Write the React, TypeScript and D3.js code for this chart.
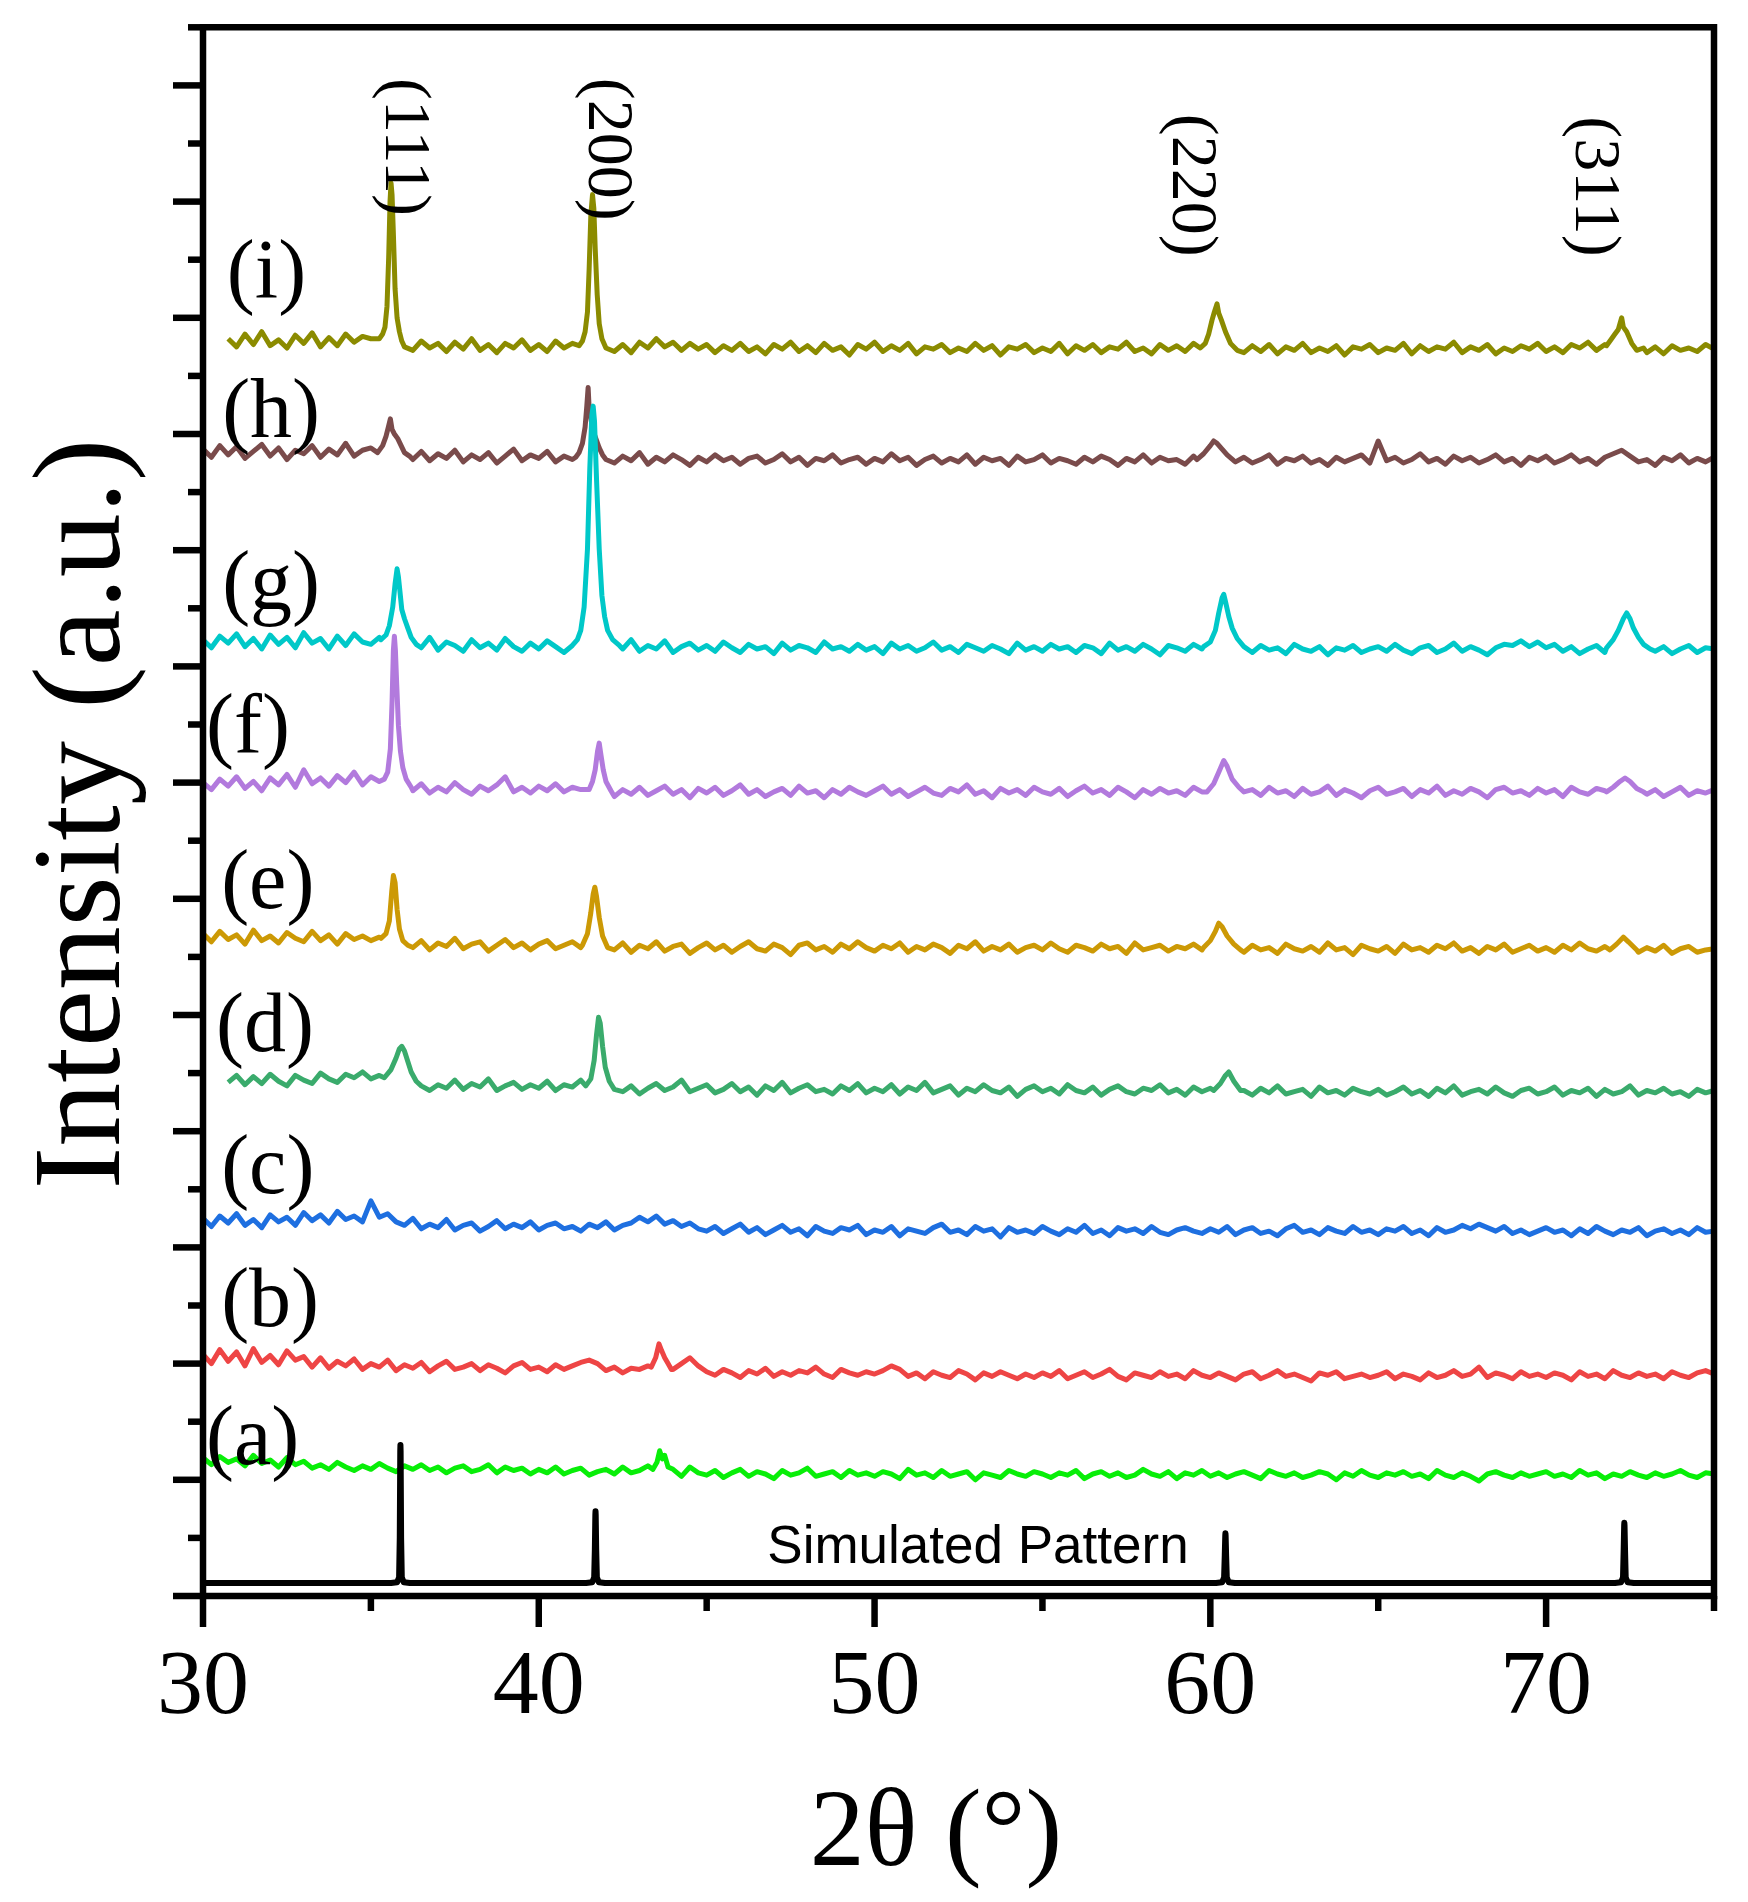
import React from 'react';
import * as d3 from 'd3';

// ---------- data ----------
const X_DOMAIN: [number, number] = [30, 75];
const Y_DOMAIN: [number, number] = [0, 13.5];
const xTickValues = [30, 35, 40, 45, 50, 55, 60, 65, 70, 75];
const xTickLabels = [30, 40, 50, 60, 70];
const yTickValues = d3.range(0, 13.51, 0.5);

const GRID_START = 30;
const GRID_STEP = 0.25;

const seriesNames = ['(a)', '(b)', '(c)', '(d)', '(e)', '(f)', '(g)', '(h)', '(i)'];
const seriesColors = ['#08ee08', '#ee4545', '#1e6fe0', '#3aab6c', '#cc9905', '#b27add', '#00c8c8', '#7a4b4b', '#8b8b00'];
const seriesOffsets = [1.15, 2.03, 3.23, 4.43, 5.66, 6.99, 8.21, 9.84, 10.8];
const labelAt: [number, number][] = [
  [30.09, 1.14], [30.54, 2.32], [30.54, 3.47], [30.39, 4.69], [30.54, 5.92],
  [30.09, 7.26], [30.57, 8.49], [30.57, 9.97], [30.71, 11.17],
];

// background intensities on a 0.25° grid (hundredths of a unit above the offset)
const bgA = [
  4,-2,5,0,3,-3,6,-1,2,-4,4,-2,1,-5,-2,-6,0,-4,-7,-3,
  -6,-1,-5,-8,-3,-6,-2,-7,-4,-9,-5,-3,-8,-6,-2,-9,-4,-7,-5,-10,
  -6,-9,-4,-10,-7,-5,-11,-8,-6,-10,-4,-9,-7,-3,0,0,-6,-12,-4,-9,
  -11,-7,-13,-9,-6,-12,-8,-10,-14,-7,-11,-9,-5,-12,-10,-8,-13,-7,-11,-9,
  -12,-8,-10,-14,-6,-11,-9,-13,-7,-12,-10,-8,-15,-9,-11,-13,-7,-10,-12,-8,
  -10,-13,-9,-11,-7,-14,-10,-8,-12,-9,-13,-11,-6,-10,-12,-8,-14,-9,-11,-7,
  -12,-9,-13,-10,-8,-11,-14,-7,-10,-12,-9,-13,-11,-8,-10,-15,-9,-12,-7,-11,
  -13,-9,-11,-8,-12,-10,-14,-7,-11,-13,-9,-12,-16,-10,-8,-11,-13,-9,-12,-10,
  -8,-12,-10,-13,-7,-11,-9,-14,-10,-12,-8,-11,-13,-9,-12,-10,-7,-11,-13,-9,
  -10,
];
const bgB = [
  5,-3,9,-1,7,-5,10,-2,4,-4,8,0,3,-6,2,-7,-1,-5,1,-8,
  -3,-6,0,-9,-4,-7,-2,-10,-5,-1,-8,-6,-3,-9,-4,-7,-11,-5,-2,-8,
  -6,-10,-4,-8,-5,-2,0,-3,-9,-6,-11,-7,-8,-5,0,0,-8,-3,2,-5,
  -10,-13,-8,-11,-15,-9,-12,-7,-14,-10,-13,-9,-11,-6,-12,-15,-8,-11,-13,-10,
  -12,-9,-5,-8,-14,-11,-16,-10,-13,-15,-9,-12,-17,-11,-14,-10,-13,-16,-12,-15,
  -11,-14,-9,-16,-13,-10,-15,-12,-8,-14,-17,-11,-13,-15,-10,-14,-12,-16,-9,-13,
  -15,-11,-14,-17,-12,-10,-16,-13,-9,-14,-12,-15,-18,-11,-13,-10,-16,-14,-12,-15,
  -13,-10,-16,-12,-14,-17,-11,-15,-13,-9,-14,-12,-6,-15,-11,-13,-16,-10,-14,-12,
  -15,-11,-13,-17,-10,-14,-12,-16,-9,-13,-15,-11,-14,-12,-16,-10,-13,-15,-11,-9,
  -12,
];
const bgC = [
  2,-5,4,-2,6,-4,1,-6,5,-1,3,-4,7,0,5,-2,8,1,4,-1,
  17,3,6,-1,-4,2,-7,-3,-6,1,-8,-4,-2,-9,-5,0,-7,-3,-6,-1,
  -8,-4,-2,-7,-5,-9,-3,-6,-1,-8,-4,-2,3,-1,4,-3,0,-5,-2,-7,
  -9,-5,-11,-7,-3,-10,-6,-12,-8,-4,-10,-7,-13,-5,-9,-11,-6,-8,-4,-12,
  -8,-10,-5,-13,-7,-9,-11,-6,-3,-10,-8,-12,-5,-9,-7,-14,-6,-10,-8,-11,
  -5,-9,-12,-7,-10,-4,-11,-8,-13,-6,-9,-7,-11,-5,-10,-12,-8,-6,-9,-11,
  -7,-10,-5,-12,-8,-6,-11,-9,-13,-7,-4,-10,-8,-12,-6,-9,-11,-5,-10,-8,
  -12,-7,-9,-5,-11,-8,-13,-6,-10,-8,-4,-7,-3,-6,-9,-5,-11,-8,-12,-9,
  -6,-10,-8,-13,-7,-11,-5,-9,-12,-8,-10,-6,-13,-9,-7,-11,-8,-12,-6,-10,
  -9,
];
const bgD = [
  null,null,null,-1,5,-3,4,-2,6,0,-4,5,1,-2,7,2,-1,6,3,8,
  2,5,0,0,0,0,0,-8,-3,-6,1,-7,-2,-5,2,-8,-4,-1,-7,-3,
  -6,0,-8,-3,-5,1,0,0,0,0,-9,-4,-11,-6,-2,-8,-5,1,-9,-6,
  -3,-10,-7,-2,-9,-5,-12,-4,-8,-1,-10,-6,-3,-9,-7,-11,-4,-8,-2,-10,
  -6,-9,-3,-11,-5,-8,-1,-10,-7,-4,-12,-6,-9,-3,-8,-10,-5,-13,-7,-4,
  -9,-6,-11,-3,-8,-10,-5,-12,-7,-4,-9,-11,-6,-8,-3,-10,-7,-12,-5,-9,
  -6,0,0,0,-8,-12,-6,-10,-4,-11,-9,-7,-13,-5,-10,-8,-12,-6,-9,-11,
  -7,-12,-9,-5,-11,-8,-13,-6,-10,-4,-12,-9,-7,-11,-5,-10,-13,-8,-6,-11,
  -9,-5,-12,-8,-10,-6,-13,-7,-11,-9,-4,-12,-8,-10,-6,-11,-9,-13,-7,-10,
  -8,
];
const bgE = [
  4,-3,6,-1,3,-5,7,-2,2,-4,5,0,-3,6,-2,3,-5,4,-1,2,
  -2,1,0,0,0,-8,-2,-10,-4,-7,0,-9,-5,-3,-11,-6,-1,-8,-4,-10,
  -5,-2,-9,-6,-3,-8,0,0,0,-10,-4,-12,-6,-9,-3,-11,-7,-5,-13,-8,
  -4,-10,-6,-12,-7,-3,-9,-11,-5,-8,-14,-6,-4,-10,-7,-12,-5,-9,-3,-8,
  -11,-6,-9,-4,-12,-7,-10,-5,-8,-13,-6,-9,-3,-11,-7,-10,-5,-12,-8,-6,
  -10,-4,-9,-12,-6,-8,-11,-5,-9,-7,-13,-4,-10,-8,-6,-11,-7,-9,-5,-10,
  0,0,0,0,-12,-6,-10,-8,-13,-5,-9,-11,-7,-12,-4,-10,-8,-14,-6,-9,
  -11,-7,-13,-5,-10,-8,-12,-6,-9,-4,-11,-8,-13,-7,-10,-5,-12,-9,-6,-11,
  -8,-12,-6,-10,-4,-9,-11,-7,0,0,0,-12,-8,-11,-6,-13,-9,-7,-12,-10,
  -9,
];
const bgF = [
  1,-5,4,-2,6,-4,2,-6,5,-1,8,-3,12,0,5,-2,7,1,10,-1,
  6,2,0,0,0,-6,0,-8,-3,-7,1,-5,-9,-2,-6,-1,6,-7,-3,-8,
  -2,-6,0,-7,-3,-5,0,0,0,-11,-5,-9,-3,-10,-6,-2,-9,-5,-12,-4,
  -8,-3,-10,-6,-1,-9,-5,-11,-7,-4,-10,-2,-8,-6,-12,-5,-9,-3,-7,-10,
  -6,-2,-9,-5,-11,-7,-3,-8,-10,-4,-7,-1,-9,-6,-12,-4,-8,-5,-10,-3,
  -7,-9,-4,-11,-6,-2,-8,-5,-10,-3,-7,-12,-5,-9,-4,-8,-6,-10,-3,-7,
  0,0,0,0,0,-5,-10,-3,-8,-6,-11,-4,-9,-7,-2,-10,-5,-8,-12,-6,
  -3,-9,-7,-4,-11,-5,-8,-2,-10,-6,-9,-4,-7,-12,-5,-3,-8,-6,-10,-4,
  -8,-5,-11,-3,-7,-9,-4,-6,0,0,0,0,-9,-5,-11,-7,-3,-10,-6,-8,
  -5,
];
const bgG = [
  2,-5,5,-1,7,-4,3,-6,6,-2,4,-5,8,-1,3,-6,5,-3,7,0,
  -2,4,0,0,0,0,-5,4,-7,0,-3,-8,2,-5,-1,-7,3,-4,-8,-1,
  -6,1,-4,-9,0,0,0,0,0,0,-6,2,-8,-3,-6,1,-9,-4,-1,-7,
  -3,-8,0,-5,-9,-2,-6,-4,-10,-1,-7,-3,-5,-9,0,-6,-4,-8,-2,-7,
  -4,-10,-1,-6,-3,-8,-5,0,-7,-4,-9,-2,-5,-8,-3,-6,-10,-1,-7,-4,
  -8,-2,-6,-4,-9,-3,-5,-10,-1,-7,-4,-8,-2,-6,-11,-3,-5,-8,-2,-6,
  0,0,0,0,0,-9,-3,-7,-5,-10,-2,-6,-8,-4,-11,-5,-7,-3,-9,-6,
  -4,-8,-2,-7,-10,-5,-3,-9,-6,-1,-8,-4,-7,-11,-5,-2,-3,1,-4,0,
  -5,-2,-8,-4,-10,-6,-3,-9,0,0,0,0,0,-8,-4,-10,-6,-3,-9,-5,
  -6,
];
const bgH = [
  3,-4,6,-2,5,-5,1,7,-3,4,-6,2,-1,6,-4,3,-2,8,-3,2,
  4,0,0,0,0,-6,1,-7,-1,-5,2,-8,-2,-6,0,-9,-3,3,-7,-2,
  -5,1,-8,-3,-6,0,0,0,0,-9,-3,-7,0,-10,-4,-8,-2,-6,-11,-4,
  -8,-2,-7,-4,-10,-5,-3,-9,-6,-1,-8,-4,-11,-5,-7,-2,-9,-6,-4,-10,
  -5,-8,-1,-7,-4,-11,-6,-3,-9,-5,-8,-2,-10,-4,-7,-5,-11,-3,-8,-6,
  -2,-9,-5,-7,-10,-4,-8,-3,-6,-11,-5,-8,-2,-9,-4,-7,-6,-10,-3,-7,
  0,0,0,-8,-4,-9,-6,-2,-10,-5,-7,-3,-9,-6,-11,-4,-8,-5,-2,-9,
  10,-7,-4,-9,-6,-1,-8,-5,-10,-3,-7,-4,-9,-6,-2,-8,-5,-11,-4,-7,
  -3,-9,-6,-2,-8,-5,-10,-4,-1,2,-3,-8,-6,-11,-4,-7,-2,-9,-5,-8,
  -4,
];
const bgI = [
  null,null,null,2,-5,6,-3,8,-4,1,-6,5,-2,7,-5,3,-4,6,-1,4,
  2,0,0,0,-4,-8,0,-6,-2,-9,-1,-7,2,-8,-3,-10,-2,-6,1,-8,
  -3,-9,0,-6,-2,0,0,0,0,-9,-3,-10,-1,-6,2,-5,-1,-8,-2,-7,
  -3,-10,-4,-8,-2,-9,-5,-11,-3,-7,-1,-9,-4,-10,-2,-8,-5,-12,-3,-7,
  -1,-9,-4,-8,-2,-11,-5,-7,-3,-10,-6,-9,-2,-8,-4,-12,-5,-7,-3,-10,
  -6,-9,-2,-11,-4,-8,-3,-10,-5,-7,-1,-9,-6,-11,-3,-8,-4,-9,-2,-6,
  0,0,0,0,-10,-4,-9,-3,-11,-5,-8,-2,-10,-6,-9,-4,-12,-5,-7,-3,
  -10,-6,-8,-2,-11,-4,-9,-5,-7,-1,-10,-5,-8,-3,-11,-6,-9,-4,-7,-2,
  -9,-5,-10,-3,-6,-1,-8,-3,0,0,0,0,-10,-5,-11,-4,-8,-6,-9,-3,
  -7,
];

// reflections: [2θ, hundredths above offset]
const pkA = [[[43.4, -6], [43.52, 0], [43.6, 10], [43.68, 3], [43.75, 6], [43.85, -4]]];
const pkB = [[[43.35, -6], [43.48, 2], [43.58, 14], [43.66, 8], [43.75, 2], [43.85, -3], [43.95, -8]]];
const pkC: number[][][] = [];
const pkD = [
  [[35.4, 3], [35.6, 10], [35.75, 20], [35.85, 28], [35.92, 30], [36.0, 26], [36.1, 17], [36.2, 8], [36.35, 0], [36.5, -4]],
  [[41.4, -4], [41.55, 2], [41.65, 18], [41.72, 40], [41.78, 55], [41.83, 50], [41.9, 30], [41.98, 12], [42.1, 0], [42.25, -7]],
  [[60.1, -8], [60.3, -2], [60.45, 5], [60.55, 8], [60.7, 0], [60.9, -8]],
];
const pkE = [
  [[35.3, 0], [35.45, 4], [35.55, 15], [35.62, 40], [35.67, 54], [35.72, 48], [35.78, 25], [35.85, 8], [35.95, -2], [36.1, -6]],
  [[41.3, -6], [41.45, 4], [41.55, 22], [41.62, 38], [41.67, 44], [41.72, 36], [41.8, 18], [41.9, 2], [42.05, -8]],
  [[59.8, -8], [60.0, -2], [60.15, 6], [60.25, 13], [60.35, 10], [60.5, 2], [60.7, -5], [60.9, -10]],
  [[71.9, -10], [72.1, -5], [72.3, 1], [72.45, -3], [72.7, -10]],
];
const pkF = [
  [[35.4, 4], [35.5, 10], [35.58, 30], [35.63, 70], [35.67, 115], [35.7, 127], [35.73, 115], [35.77, 85], [35.82, 50], [35.88, 28], [35.95, 14], [36.05, 4], [36.2, -3]],
  [[41.5, -5], [41.6, 2], [41.68, 12], [41.75, 28], [41.8, 35], [41.85, 25], [41.92, 12], [42.0, 2], [42.15, -6]],
  [[59.9, -7], [60.1, 0], [60.25, 10], [60.4, 20], [60.5, 15], [60.65, 4], [60.85, -3], [61.0, -7]],
  [[71.8, -7], [72.0, -3], [72.2, 2], [72.35, 5], [72.5, 2], [72.7, -4], [72.9, -7]],
];
const pkG = [
  [[35.3, 2], [35.45, 6], [35.55, 14], [35.65, 30], [35.72, 50], [35.78, 63], [35.82, 56], [35.86, 45], [35.92, 28], [36.0, 20], [36.1, 12], [36.2, 4], [36.35, -2]],
  [[41.0, -3], [41.15, 2], [41.25, 10], [41.35, 30], [41.45, 80], [41.52, 150], [41.58, 195], [41.62, 203], [41.66, 190], [41.72, 140], [41.8, 80], [41.88, 40], [41.96, 22], [42.05, 10], [42.2, 2], [42.4, -3]],
  [[59.8, -4], [60.0, 0], [60.15, 10], [60.25, 25], [60.35, 38], [60.4, 41], [60.45, 35], [60.55, 22], [60.65, 12], [60.8, 3], [61.0, -4]],
  [[71.8, -5], [72.0, 2], [72.15, 10], [72.3, 20], [72.4, 25], [72.5, 20], [72.6, 12], [72.75, 4], [72.9, -2], [73.1, -6]],
];
const pkH = [
  [[35.2, 0], [35.35, 6], [35.45, 14], [35.52, 22], [35.58, 29], [35.63, 20], [35.7, 16], [35.8, 12], [35.9, 6], [36.0, 0], [36.15, -3]],
  [[41.1, -4], [41.2, 0], [41.3, 8], [41.38, 22], [41.43, 40], [41.47, 56], [41.5, 38], [41.55, 30], [41.6, 20], [41.7, 12], [41.8, 4], [41.9, -2], [42.0, -6]],
  [[59.6, -6], [59.8, -1], [60.0, 6], [60.1, 10], [60.2, 8], [60.35, 3], [60.5, -2], [60.7, -7]],
];
const pkI = [
  [[35.25, 2], [35.35, 6], [35.42, 12], [35.48, 30], [35.53, 72], [35.57, 120], [35.6, 136], [35.63, 126], [35.67, 92], [35.72, 45], [35.78, 20], [35.85, 8], [35.92, 0], [36.0, -5]],
  [[41.2, -4], [41.3, 0], [41.38, 8], [41.45, 25], [41.5, 62], [41.55, 108], [41.6, 126], [41.64, 114], [41.68, 80], [41.74, 40], [41.8, 15], [41.88, 2], [42.0, -6]],
  [[59.7, -6], [59.85, -2], [59.95, 6], [60.05, 18], [60.12, 25], [60.2, 32], [60.25, 24], [60.33, 18], [60.45, 8], [60.6, -2], [60.8, -8]],
  [[71.8, -4], [71.95, 2], [72.05, 6], [72.15, 10], [72.25, 20], [72.3, 12], [72.4, 8], [72.55, -2], [72.7, -8], [72.9, -6]],
];

const bgList = [bgA, bgB, bgC, bgD, bgE, bgF, bgG, bgH, bgI];
const pkList = [pkA, pkB, pkC, pkD, pkE, pkF, pkG, pkH, pkI];

// simulated (reference) pattern: [2θ, intensity]
const simPattern: [number, number][] = [
  [30, 0.112], [35.6, 0.112], [35.78, 0.118], [35.84, 0.16], [35.86, 0.5], [35.875, 1.25], [35.88, 1.3], [35.885, 1.25], [35.9, 0.5], [35.92, 0.16], [35.98, 0.118], [36.16, 0.112],
  [41.41, 0.112], [41.59, 0.118], [41.65, 0.16], [41.67, 0.4], [41.685, 0.7], [41.69, 0.73], [41.695, 0.7], [41.71, 0.4], [41.73, 0.16], [41.79, 0.118], [41.97, 0.112],
  [60.17, 0.112], [60.35, 0.118], [60.41, 0.16], [60.43, 0.35], [60.445, 0.52], [60.45, 0.54], [60.455, 0.52], [60.47, 0.35], [60.49, 0.16], [60.55, 0.118], [60.73, 0.112],
  [72.05, 0.112], [72.23, 0.118], [72.29, 0.16], [72.31, 0.4], [72.325, 0.61], [72.33, 0.63], [72.335, 0.61], [72.35, 0.4], [72.37, 0.16], [72.43, 0.118], [72.61, 0.112],
  [75, 0.112],
];
const simLabel = 'Simulated Pattern';

const hklLabels = ['(111)', '(200)', '(220)', '(311)'];
const hklAt: [number, number][] = [[36.13, 12.47], [42.18, 12.45], [59.57, 12.14], [71.57, 12.13]];

const xTitle = '2θ (°)';
const yTitle = 'Intensity (a.u.)';

// ---------- helpers ----------
function buildSeries(offset: number, bg: (number | null)[], peaks: number[][][]): [number, number][] {
  const regions = peaks.map(p => [p[0][0], p[p.length - 1][0]]);
  const pts: [number, number][] = [];
  bg.forEach((v, i) => {
    if (v === null) return;
    const xv = GRID_START + i * GRID_STEP;
    if (regions.some(([a, b]) => xv >= a - 1e-9 && xv <= b + 1e-9)) return;
    pts.push([xv, offset + v / 100]);
  });
  peaks.forEach(p => p.forEach(([xv, v]) => pts.push([xv, offset + v / 100])));
  pts.sort((a, b) => a[0] - b[0]);
  return pts;
}

const SERIF = "'Liberation Serif', 'Times New Roman', serif";
const SANS = "'Liberation Sans', Arial, sans-serif";

export default function App() {
  const W = 1748, H = 1902;
  const left = 203, right = 1714, top = 27.3, bottom = 1596;
  const x = d3.scaleLinear().domain(X_DOMAIN).range([left, right]);
  const y = d3.scaleLinear().domain(Y_DOMAIN).range([bottom, top]);
  const line = d3.line<[number, number]>().x(d => x(d[0])).y(d => y(d[1]));

  const series = seriesNames.map((name, k) => ({
    name,
    color: seriesColors[k],
    pts: buildSeries(seriesOffsets[k], bgList[k] as (number | null)[], pkList[k] as number[][][]),
  }));
  const drawOrder = series.map((_, k) => k).reverse();

  const axisW = 6.5;

  return (
    <svg width={W} height={H} viewBox={`0 0 ${W} ${H}`}
      style={{ position: 'absolute', left: 0, top: 0, background: '#fff', display: 'block' }}>
      <rect x={0} y={0} width={W} height={H} fill="#fff" />

      {/* data curves */}
      {drawOrder.map(k => (
        <path key={series[k].name} d={line(series[k].pts) || ''} fill="none"
          stroke={series[k].color} strokeWidth={5} strokeLinejoin="round" />
      ))}
      <path d={line(simPattern) || ''} fill="none" stroke="#000" strokeWidth={6}
        strokeLinejoin="round" strokeLinecap="round" />

      {/* frame */}
      <path d={`M${left},${top}H${right}V${bottom}H${left}Z`} fill="none" stroke="#000"
        strokeWidth={axisW} strokeLinejoin="miter" />

      {/* x ticks */}
      {xTickValues.map(v => {
        const major = v % 10 === 0;
        return <line key={'xt' + v} x1={x(v)} x2={x(v)} y1={bottom} y2={bottom + (major ? 31 : 15)}
          stroke="#000" strokeWidth={axisW} />;
      })}
      {xTickLabels.map(v => (
        <text key={'xl' + v} x={x(v)} y={1713} textAnchor="middle" fontFamily={SERIF} fontSize={92}>{v}</text>
      ))}

      {/* y ticks */}
      {yTickValues.map(v => {
        const major = Math.abs(v - Math.round(v)) < 1e-6;
        return <line key={'yt' + v} x1={left} x2={left - (major ? 30 : 15)} y1={y(v)} y2={y(v)}
          stroke="#000" strokeWidth={axisW} />;
      })}

      {/* axis titles */}
      <text x={936} y={1865} textAnchor="middle" fontFamily={SERIF} fontSize={110}>{xTitle}</text>
      <text transform={`translate(119,814) rotate(-90)`} textAnchor="middle" fontFamily={SERIF}
        fontSize={124} textLength={751} lengthAdjust="spacingAndGlyphs">{yTitle}</text>

      {/* series labels */}
      {series.map((s, k) => (
        <text key={'lab' + k} x={x(labelAt[k][0])} y={y(labelAt[k][1])} fontFamily={SERIF} fontSize={84}>{s.name}</text>
      ))}

      {/* hkl labels */}
      {hklLabels.map((t, k) => (
        <text key={t} transform={`translate(${x(hklAt[k][0])},${y(hklAt[k][1])}) rotate(90)`}
          textAnchor="middle" dominantBaseline="central" fontFamily={SERIF} fontSize={66}>{t}</text>
      ))}

      {/* simulated label */}
      <text x={978} y={1563} textAnchor="middle" fontFamily={SANS} fontSize={53}>{simLabel}</text>
    </svg>
  );
}
